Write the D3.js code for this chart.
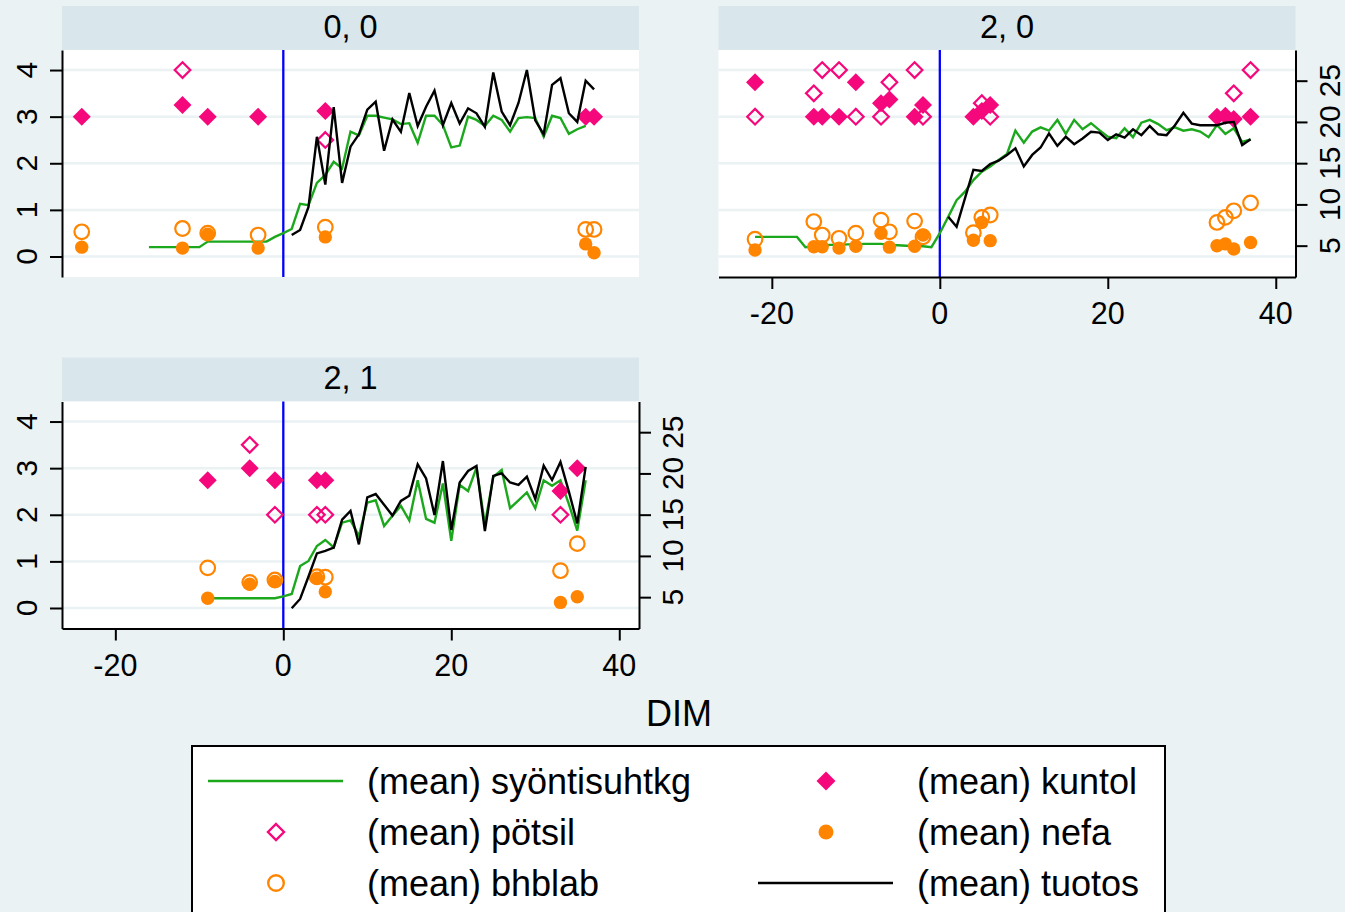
<!DOCTYPE html>
<html>
<head>
<meta charset="utf-8">
<script src="https://cdn.jsdelivr.net/npm/d3@7"></script>
<style>
  body { margin: 0; background: #eaf2f3; }
  text { font-family: "Liberation Sans", Arial, sans-serif; fill: #000; }
</style>
</head>
<body>
<svg id="chart" width="1345" height="912"></svg>
<script>
// panel titles and ticks
const panelTitles = ["0, 0", "2, 0", "2, 1"];
const xTicks = [-20, 0, 20, 40];
const yTicks = [0, 1, 2, 3, 4];
const y2Ticks = [5, 10, 15, 20, 25];
const legendLabels = ["(mean) syöntisuhtkg", "(mean) kuntol", "(mean) pötsil",
                      "(mean) nefa", "(mean) bhblab", "(mean) tuotos"];

// panel "0, 0"  -- [DIM, mean]
const syonti00 = [[-16,.2],[-15,.2],[-14,.2],[-13,.2],[-12,.2],[-11,.2],[-10,.2],[-9,.32],[-8,.32],[-7,.32],[-6,.32],[-5,.32],[-4,.32],[-3,.32],[-2,.32],[-1,.42],[0,.5],[1,.59],[2,1.13],[3,1.1],[4,1.58],[5,1.75],[6,2.03],[7,1.89],[8,2.68],[9,2.6],[10,3.02],[11,3.02],[12,2.98],[13,2.94],[14,2.84],[15,2.86],[16,2.44],[17,3.02],[18,3.02],[19,2.82],[20,2.34],[21,2.38],[22,3.0],[23,2.93],[24,2.8],[25,3.02],[26,2.93],[27,2.68],[28,2.97],[29,2.99],[30,2.97],[31,2.57],[32,3.02],[33,2.97],[34,2.63],[35,2.73],[36,2.8]];
const kuntol00 = [[-24,3],[-12,3.25],[-9,3],[-3,3],[5,3.12],[36,3],[37,3]];
const potsil00 = [[-12,4],[5,2.5]];
const bhblab00 = [[-24,.53],[-12,.6],[-9,.5],[-3,.46],[5,.63],[36,.58],[37,.58]];
const nefa00 = [[-24,.2],[-12,.18],[-9,.48],[-3,.18],[5,.42],[36,.27],[37,.08]];
const tuotos00 = [[1,6.3],[2,6.9],[3,9.7],[4,18.2],[5,12.4],[6,21.8],[7,12.6],[8,17.0],[9,18.5],[10,21.5],[11,22.45],[12,16.5],[13,20.3],[14,18.8],[15,23.5],[16,19.5],[17,21.85],[18,23.8],[19,19.6],[20,22.3],[21,19.8],[22,21.65],[23,21.05],[24,19.4],[25,26.0],[26,21.25],[27,19.6],[28,22.3],[29,26.3],[30,20.2],[31,18.5],[32,24.5],[33,25.3],[34,21.05],[35,20.0],[36,25.0],[37,23.95]];

// panel "2, 0"
const syonti20 = [[-22,.42],[-21,.42],[-20,.42],[-19,.42],[-18,.42],[-17,.42],[-16,.2],[-15,.22],[-14,.24],[-13,.25],[-12,.25],[-11,.26],[-10,.26],[-9,.27],[-8,.27],[-7,.27],[-6,.25],[-5,.24],[-4,.23],[-3,.22],[-2,.22],[-1,.2],[0,.5],[1,.85],[2,1.21],[3,1.39],[4,1.64],[5,1.82],[6,1.93],[7,2.07],[8,2.2],[9,2.7],[10,2.44],[11,2.68],[12,2.77],[13,2.7],[14,2.93],[15,2.63],[16,2.93],[17,2.73],[18,2.86],[19,2.71],[20,2.57],[21,2.54],[22,2.75],[23,2.56],[24,2.87],[25,2.93],[26,2.84],[27,2.71],[28,2.77],[29,2.7],[30,2.73],[31,2.68],[32,2.56],[33,2.82],[34,2.63],[35,2.75],[36,2.46],[37,2.51]];
const kuntol20 = [[-22,3.74],[-15,3],[-14,3],[-12,3],[-10,3.74],[-7,3.29],[-6,3.37],[-3,3],[-2,3.25],[4,3],[5,3.12],[6,3.25],[33,3],[34,3.02],[35,2.95],[37,3]];
const potsil20 = [[-22,3],[-15,3.5],[-14,4],[-12,4],[-10,3],[-7,3],[-6,3.74],[-3,4],[-2,3],[5,3.29],[6,3],[35,3.5],[37,4]];
const bhblab20 = [[-22,.37],[-15,.75],[-14,.46],[-12,.39],[-10,.5],[-7,.78],[-6,.53],[-3,.76],[-2,.42],[4,.51],[5,.84],[6,.89],[33,.73],[34,.84],[35,.98],[37,1.15]];
const nefa20 = [[-22,.14],[-15,.21],[-14,.21],[-12,.18],[-10,.22],[-7,.5],[-6,.2],[-3,.22],[-2,.46],[4,.35],[5,.73],[6,.34],[33,.23],[34,.27],[35,.16],[37,.3]];
const tuotos20 = [[1,8.5],[2,7.3],[4,14.2],[5,14.05],[6,14.9],[7,15.3],[8,16.0],[9,16.8],[10,14.6],[11,16.0],[12,16.9],[13,18.6],[14,17.1],[15,18.2],[16,17.3],[17,18.0],[18,18.8],[19,18.7],[20,17.8],[21,18.5],[22,18.1],[23,19.1],[24,18.4],[25,19.5],[26,18.5],[27,18.4],[28,19.6],[29,21.1],[30,19.8],[31,19.6],[32,19.6],[33,19.6],[34,19.9],[35,20.0],[36,17.2],[37,17.9]];

// panel "2, 1"
const syonti21 = [[-9,.21],[-8,.21],[-7,.21],[-6,.21],[-5,.21],[-4,.21],[-3,.21],[-2,.21],[-1,.21],[0,.25],[1,.3],[2,.9],[3,1.01],[4,1.33],[5,1.46],[6,1.3],[7,1.83],[8,1.88],[9,1.55],[10,2.26],[11,2.31],[12,1.76],[13,1.98],[14,2.19],[15,1.88],[16,2.74],[17,1.91],[18,1.83],[19,2.67],[20,1.44],[21,2.64],[22,2.51],[23,3.01],[24,1.8],[25,2.81],[26,2.96],[27,2.14],[28,2.31],[29,2.48],[30,2.14],[31,2.74],[32,2.62],[33,2.74],[34,2.23],[35,1.66],[36,2.74]];
const kuntol21 = [[-9,2.74],[-4,3.0],[-1,2.74],[4,2.74],[5,2.74],[33,2.51],[35,3.0]];
const potsil21 = [[-4,3.5],[-1,2],[4,2],[5,2],[33,2]];
const bhblab21 = [[-9,.86],[-4,.55],[-1,.6],[4,.67],[5,.66],[33,.8],[35,1.38]];
const nefa21 = [[-9,.21],[-4,.51],[-1,.57],[4,.64],[5,.35],[33,.12],[35,.24]];
const tuotos21 = [[1,3.65],[2,4.78],[3,7.5],[4,10.3],[5,10.6],[6,11.0],[7,14.4],[8,15.45],[9,11.4],[10,17.1],[11,17.5],[12,16.2],[13,14.9],[14,16.66],[15,17.3],[16,21.1],[17,19.4],[18,14.96],[19,21.5],[20,13.15],[21,18.9],[22,20.3],[23,20.9],[24,13.0],[25,19.7],[26,20.0],[27,18.9],[28,18.6],[29,19.6],[30,16.9],[31,20.95],[32,19.2],[33,21.4],[34,17.8],[35,13.95],[36,20.8]];

const GREEN = "#1ca81c", PINK = "#f5087c", ORANGE = "#ff8500", BLUE = "#0000ff";
const W = 577, H = 227, HEAD = 44;

const svg = d3.select("#chart");
svg.append("rect").attr("width", 1345).attr("height", 912).attr("fill", "#eaf2f3");

const x = d3.scaleLinear().domain([-26.35, 42.35]).range([0, W]);
const yL = d3.scaleLinear().domain([-0.44, 4.43]).range([H, 0]);
const yR = d3.scaleLinear().domain([1.2, 28.72]).range([H, 0]);

const diamond = r => `M0,${-r}L${r},0L0,${r}L${-r},0Z`;

const panels = [
    {title: panelTitles[0], x0: 62, y0: 50, left: true, right: false, bottom: false,
     syonti: syonti00, kuntol: kuntol00, potsil: potsil00, bhblab: bhblab00, nefa: nefa00, tuotos: tuotos00},
    {title: panelTitles[1], x0: 718.5, y0: 50, left: false, right: true, bottom: true,
     syonti: syonti20, kuntol: kuntol20, potsil: potsil20, bhblab: bhblab20, nefa: nefa20, tuotos: tuotos20},
    {title: panelTitles[2], x0: 62, y0: 401.5, left: true, right: true, bottom: true,
     syonti: syonti21, kuntol: kuntol21, potsil: potsil21, bhblab: bhblab21, nefa: nefa21, tuotos: tuotos21}
];

function styleAxis(g) {
    g.selectAll("path, line").attr("stroke", "#000").attr("stroke-width", 2);
    g.selectAll("text").remove();
}

panels.forEach(p => {
    // header band
    svg.append("rect")
        .attr("x", p.x0).attr("y", p.y0 - HEAD)
        .attr("width", W).attr("height", HEAD)
        .attr("fill", "#d9e6eb");
    svg.append("text")
        .attr("x", p.x0 + W / 2).attr("y", p.y0 - 12.5)
        .attr("text-anchor", "middle")
        .attr("font-size", 32.5)
        .text(p.title);

    const g = svg.append("g").attr("transform", `translate(${p.x0},${p.y0})`);
    g.append("rect").attr("width", W).attr("height", H).attr("fill", "#fff");

    g.selectAll(".grid").data(yTicks).enter().append("line")
        .attr("x1", 0).attr("x2", W)
        .attr("y1", d => yL(d)).attr("y2", d => yL(d))
        .attr("stroke", "#eaf2f3").attr("stroke-width", 2.5);

    // xline at DIM 0
    g.append("line")
        .attr("x1", x(0)).attr("x2", x(0)).attr("y1", 0).attr("y2", H)
        .attr("stroke", BLUE).attr("stroke-width", 2.3);

    g.append("path").datum(p.syonti)
        .attr("fill", "none").attr("stroke", GREEN).attr("stroke-width", 2.4)
        .attr("d", d3.line().x(d => x(d[0])).y(d => yL(d[1])));

    g.selectAll(".potsil").data(p.potsil).enter().append("path")
        .attr("transform", d => `translate(${x(d[0])},${yL(d[1])})`)
        .attr("d", diamond(7.8))
        .attr("fill", "none").attr("stroke", PINK).attr("stroke-width", 2.2);

    g.selectAll(".bhblab").data(p.bhblab).enter().append("circle")
        .attr("cx", d => x(d[0])).attr("cy", d => yL(d[1])).attr("r", 7.3)
        .attr("fill", "none").attr("stroke", ORANGE).attr("stroke-width", 2.2);

    g.selectAll(".kuntol").data(p.kuntol).enter().append("path")
        .attr("transform", d => `translate(${x(d[0])},${yL(d[1])})`)
        .attr("d", diamond(9))
        .attr("fill", PINK);

    g.selectAll(".nefa").data(p.nefa).enter().append("circle")
        .attr("cx", d => x(d[0])).attr("cy", d => yL(d[1])).attr("r", 6.7)
        .attr("fill", ORANGE);

    g.append("path").datum(p.tuotos)
        .attr("fill", "none").attr("stroke", "#000").attr("stroke-width", 2.4)
        .attr("d", d3.line().x(d => x(d[0])).y(d => yR(d[1])));

    // axes
    if (p.left) {
        g.append("g").call(d3.axisLeft(yL).tickValues(yTicks).tickSize(12).tickSizeOuter(0)).call(styleAxis);
        g.selectAll(".ylab").data(yTicks).enter().append("text")
            .attr("transform", d => `translate(-25,${yL(d)}) rotate(-90)`)
            .attr("text-anchor", "middle").attr("font-size", 30)
            .text(d => d);
    }
    if (p.right) {
        g.append("g").attr("transform", `translate(${W},0)`)
            .call(d3.axisRight(yR).tickValues(y2Ticks).tickSize(12).tickSizeOuter(0)).call(styleAxis);
        g.selectAll(".y2lab").data(y2Ticks).enter().append("text")
            .attr("transform", d => `translate(${W + 44},${yR(d)}) rotate(-90)`)
            .attr("text-anchor", "middle").attr("font-size", 30)
            .text(d => d);
    }
    if (p.bottom) {
        g.append("g").attr("transform", `translate(0,${H})`)
            .call(d3.axisBottom(x).tickValues(xTicks).tickSize(12).tickSizeOuter(0)).call(styleAxis);
        g.selectAll(".xlab").data(xTicks).enter().append("text")
            .attr("x", d => x(d)).attr("y", H + 47)
            .attr("text-anchor", "middle").attr("font-size", 30.5)
            .text(d => String(d));
    }
});

// x title
svg.append("text").attr("x", 679).attr("y", 726)
    .attr("text-anchor", "middle").attr("font-size", 36).text("DIM");

// legend
const lg = svg.append("g");
lg.append("rect").attr("x", 192).attr("y", 746).attr("width", 973).attr("height", 200)
    .attr("fill", "#fff").attr("stroke", "#000").attr("stroke-width", 2);

const colSym = [276, 826], colText = [367, 917], rowY = [781, 832, 883];
legendLabels.forEach((lab, i) => {
    const c = i % 2, r = Math.floor(i / 2);
    const cx = colSym[c], cy = rowY[r];
    if (i === 0 || i === 5) {
        lg.append("line").attr("x1", cx - 68).attr("x2", cx + 67).attr("y1", cy).attr("y2", cy)
            .attr("stroke", i === 0 ? GREEN : "#000").attr("stroke-width", 2.4);
    } else if (i === 1) {
        lg.append("path").attr("transform", `translate(${cx},${cy})`).attr("d", diamond(9.5)).attr("fill", PINK);
    } else if (i === 2) {
        lg.append("path").attr("transform", `translate(${cx},${cy})`).attr("d", diamond(8))
            .attr("fill", "none").attr("stroke", PINK).attr("stroke-width", 2.4);
    } else if (i === 3) {
        lg.append("circle").attr("cx", cx).attr("cy", cy).attr("r", 7.5).attr("fill", ORANGE);
    } else {
        lg.append("circle").attr("cx", cx).attr("cy", cy).attr("r", 7.8)
            .attr("fill", "none").attr("stroke", ORANGE).attr("stroke-width", 2.4);
    }
    lg.append("text").attr("x", colText[c]).attr("y", cy + 13)
        .attr("font-size", 36).text(lab);
});
</script>
</body>
</html>
